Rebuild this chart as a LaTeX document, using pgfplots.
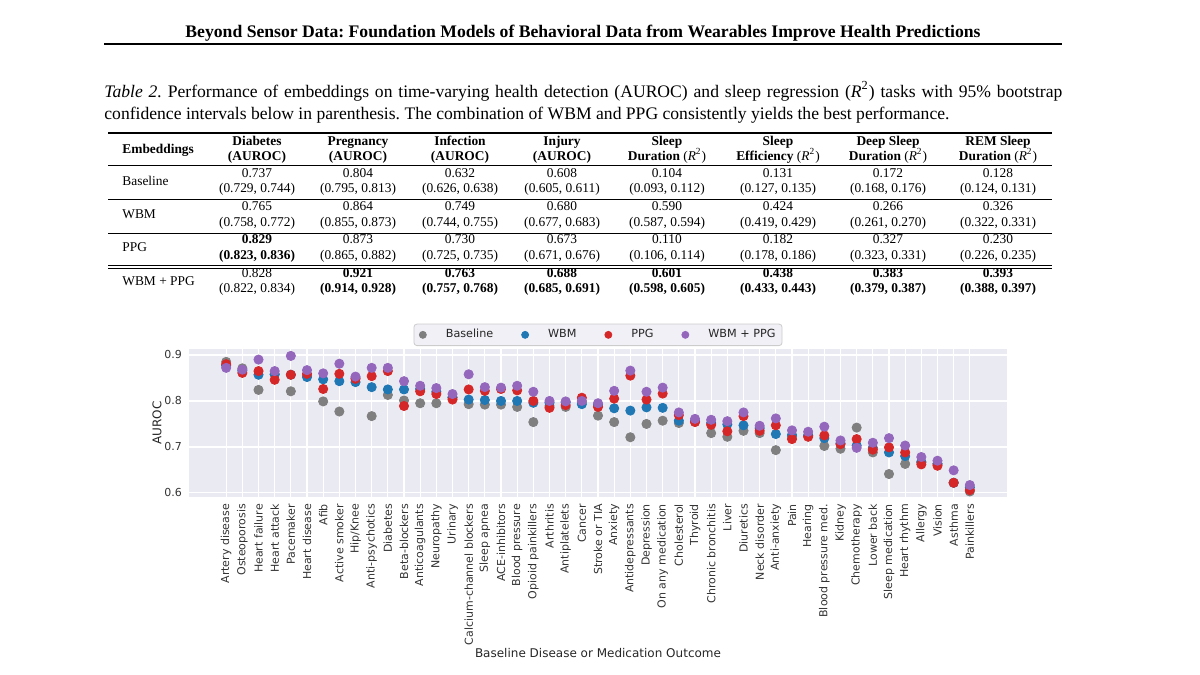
\documentclass[border=0pt]{standalone}
\usepackage{fontspec}
\setmainfont{Liberation Serif}
\newfontfamily\dejavu{DejaVu Sans}
\usepackage{pgfplots}
\usepackage{pgfplotstable}
\pgfplotsset{compat=1.18}
\definecolor{cB}{HTML}{7F7F7F}
\definecolor{cW}{HTML}{1F77B4}
\definecolor{cP}{HTML}{D62728}
\definecolor{cWP}{HTML}{9467BD}
\definecolor{sbbg}{HTML}{EAEAF2}
\frenchspacing

% AUROC per outcome: baseline, WBM, PPG, WBM+PPG
\pgfplotstableread{
x B W P WP
0 0.885 0.877 0.880 0.872
1 0.871 0.866 0.861 0.868
2 0.824 0.857 0.865 0.890
3 0.858 0.858 0.846 0.865
4 0.821 0.857 0.857 0.898
5 0.855 0.852 0.859 0.867
6 0.799 0.847 0.826 0.860
7 0.777 0.843 0.859 0.881
8 0.850 0.841 0.848 0.853
9 0.767 0.830 0.854 0.872
10 0.813 0.825 0.865 0.872
11 0.801 0.825 0.789 0.843
12 0.795 0.826 0.821 0.833
13 0.795 0.820 0.815 0.828
14 0.807 0.808 0.803 0.815
15 0.793 0.803 0.825 0.858
16 0.792 0.802 0.822 0.830
17 0.792 0.800 0.826 0.829
18 0.787 0.800 0.823 0.833
19 0.754 0.796 0.800 0.820
20 0.789 0.796 0.785 0.800
21 0.787 0.797 0.791 0.799
22 0.798 0.793 0.807 0.800
23 0.768 0.792 0.787 0.795
24 0.754 0.784 0.805 0.822
25 0.721 0.779 0.855 0.866
26 0.750 0.786 0.803 0.820
27 0.757 0.785 0.816 0.829
28 0.752 0.757 0.769 0.775
29 0.755 0.756 0.754 0.761
30 0.730 0.752 0.748 0.759
31 0.722 0.749 0.734 0.756
32 0.735 0.747 0.767 0.775
33 0.730 0.741 0.735 0.746
34 0.693 0.728 0.747 0.762
35 0.722 0.726 0.717 0.736
36 0.725 0.725 0.722 0.733
37 0.702 0.719 0.725 0.744
38 0.696 0.708 0.706 0.714
39 0.742 0.703 0.717 0.698
40 0.688 0.698 0.694 0.709
41 0.641 0.688 0.699 0.719
42 0.663 0.680 0.688 0.703
43 0.667 0.667 0.662 0.678
44 0.663 0.663 0.659 0.670
45 0.622 0.622 0.622 0.649
46 0.603 0.612 0.606 0.617
}\auroc

\begin{document}
\begin{tikzpicture}
\useasboundingbox (0,0) rectangle (600pt,-337.5pt);
\begin{scope}[x=0.5pt,y=-0.5pt,
  tab/.style={font=\fontsize{6.7}{8}\selectfont, inner sep=0pt, anchor=base}]
% running head
\node[anchor=base, inner sep=0pt] at (583,37.3)
  {\resizebox{397.5pt}{!}{\fontsize{9}{10}\selectfont\bfseries Beyond Sensor Data: Foundation Models of Behavioral Data from Wearables Improve Health Predictions}};
\draw[line width=1pt] (104,44) -- (1062,44);
% caption
\node[anchor=base west, inner sep=0pt, font=\fontsize{8.8}{10}\selectfont] at (104,97.3)
  {\makebox[479pt][s]{\textit{Table 2.} Performance of embeddings on time-varying health detection (AUROC) and sleep regression (\textit{R}\textsuperscript{2}) tasks with 95\% bootstrap}};
\node[anchor=base west, inner sep=0pt, font=\fontsize{8.8}{10}\selectfont] at (104,119.7)
  {confidence intervals below in parenthesis. The combination of WBM and PPG consistently yields the best performance.};
% table rules
\draw[line width=0.8pt] (108,133) -- (1052,133);
\draw[line width=0.5pt] (108,165) -- (1052,165);
\draw[line width=0.5pt] (108,199) -- (1052,199);
\draw[line width=0.5pt] (108,233) -- (1052,233);
\draw[line width=0.5pt] (108,265.5) -- (1052,265.5);
\draw[line width=0.5pt] (108,268.8) -- (1052,268.8);
% header
\node[tab, anchor=base west] at (122,153) {\textbf{Embeddings}};
\foreach \x/\a/\b in {257/Diabetes/(AUROC), 358/Pregnancy/(AUROC), 460/Infection/(AUROC), 562/Injury/(AUROC)}
  {\node[tab] at (\x,145) {\textbf{\a}}; \node[tab] at (\x,160.7) {\textbf{\b}};}
\foreach \x/\a/\b in {667/Sleep/Duration, 778/Sleep/Efficiency, 888/Deep Sleep/Duration, 998/REM Sleep/Duration}
  {\node[tab] at (\x,145) {\textbf{\a}}; \node[tab] at (\x,160.7) {\textbf{\b} (\textit{R}\textsuperscript{2})};}
% row labels
\node[tab, anchor=base west] at (122,185) {Baseline};
\node[tab, anchor=base west] at (122,218.3) {WBM};
\node[tab, anchor=base west] at (122,251.7) {PPG};
\node[tab, anchor=base west] at (122,285) {WBM + PPG};
% Baseline
\foreach \x/\a/\b in {257/0.737/{(0.729, 0.744)}, 358/0.804/{(0.795, 0.813)}, 460/0.632/{(0.626, 0.638)}, 562/0.608/{(0.605, 0.611)}, 667/0.104/{(0.093, 0.112)}, 778/0.131/{(0.127, 0.135)}, 888/0.172/{(0.168, 0.176)}, 998/0.128/{(0.124, 0.131)}}
  {\node[tab] at (\x,177.3) {\a}; \node[tab] at (\x,192.8) {\b};}
% WBM
\foreach \x/\a/\b in {257/0.765/{(0.758, 0.772)}, 358/0.864/{(0.855, 0.873)}, 460/0.749/{(0.744, 0.755)}, 562/0.680/{(0.677, 0.683)}, 667/0.590/{(0.587, 0.594)}, 778/0.424/{(0.419, 0.429)}, 888/0.266/{(0.261, 0.270)}, 998/0.326/{(0.322, 0.331)}}
  {\node[tab] at (\x,210.6) {\a}; \node[tab] at (\x,226.1) {\b};}
% PPG
\node[tab] at (257,243.9) {\textbf{0.829}}; \node[tab] at (257,259.4) {\textbf{(0.823, 0.836)}};
\foreach \x/\a/\b in {358/0.873/{(0.865, 0.882)}, 460/0.730/{(0.725, 0.735)}, 562/0.673/{(0.671, 0.676)}, 667/0.110/{(0.106, 0.114)}, 778/0.182/{(0.178, 0.186)}, 888/0.327/{(0.323, 0.331)}, 998/0.230/{(0.226, 0.235)}}
  {\node[tab] at (\x,243.9) {\a}; \node[tab] at (\x,259.4) {\b};}
% WBM + PPG
\node[tab] at (257,277.2) {0.828}; \node[tab] at (257,292.7) {(0.822, 0.834)};
\foreach \x/\a/\b in {358/0.921/{(0.914, 0.928)}, 460/0.763/{(0.757, 0.768)}, 562/0.688/{(0.685, 0.691)}, 667/0.601/{(0.598, 0.605)}, 778/0.438/{(0.433, 0.443)}, 888/0.383/{(0.379, 0.387)}, 998/0.393/{(0.388, 0.397)}}
  {\node[tab] at (\x,277.2) {\textbf{\a}}; \node[tab] at (\x,292.7) {\textbf{\b}};}
\end{scope}

\begin{axis}[
  at={(94.5pt,-248.5pt)}, anchor=south west,
  width=409pt, height=74pt, scale only axis,
  xmin=-2.3, xmax=48.3, ymin=0.591, ymax=0.913,
  axis background/.style={fill=sbbg},
  axis line style={draw=none},
  grid=major, major grid style={white, line width=0.6pt},
  major tick length=0pt,
  xtick={0,...,46},
  xticklabels={Artery disease, Osteoporosis, Heart failure, Heart attack, Pacemaker, Heart disease, Afib, Active smoker, Hip/Knee, Anti-psychotics, Diabetes, Beta-blockers, Anticoagulants, Neuropathy, Urinary, Calcium-channel blockers, Sleep apnea, ACE-inhibitors, Blood pressure, Opioid painkillers, Arthritis, Antiplatelets, Cancer, Stroke or TIA, Anxiety, Antidepressants, Depression, On any medication, Cholesterol, Thyroid, Chronic bronchitis, Liver, Diuretics, Neck disorder, Anti-anxiety, Pain, Hearing, Blood pressure med., Kidney, Chemotherapy, Lower back, Sleep medication, Heart rhythm, Allergy, Vision, Asthma, Painkillers},
  ytick={0.6,0.7,0.8,0.9},
  yticklabel style={/pgf/number format/fixed, /pgf/number format/precision=1},
  /pgf/number format/assume math mode=true,
  tick label style={font=\dejavu\fontsize{5.5}{6}\selectfont, text=black!80},
  xticklabel style={rotate=90, anchor=east},
  ylabel={AUROC}, xlabel={Baseline Disease or Medication Outcome},
  label style={font=\dejavu\fontsize{6}{7}\selectfont, text=black!85},
  xlabel style={at={(axis description cs:0.5,-1.054)}, anchor=center},
  ylabel style={at={(axis description cs:-0.039,0.5)}, anchor=center},
  legend columns=4,
  legend style={at={(axis description cs:0.5,1)}, anchor=south, yshift=1.5pt,
    draw=black!20, fill=sbbg!70, rounded corners=1.5pt,
    font=\dejavu\fontsize{5.6}{6.5}\selectfont, text=black!85,
    inner xsep=2.5pt, inner ysep=1.7pt, nodes={inner sep=0.8pt},
    /tikz/every even column/.append style={column sep=13.15pt}},
  dot/.style={only marks, mark=*, mark size=2.3pt,
    legend image code/.code={\draw[##1, mark size=1.75pt] plot coordinates {(0pt,0pt)}; \path (-1.75pt,0pt) (10.5pt,0pt);}},
]
\addplot[dot, color=cB] table[x=x, y=B] {\auroc};
\addlegendentry{Baseline}
\addplot[dot, color=cW] table[x=x, y=W] {\auroc};
\addlegendentry{WBM}
\addplot[dot, color=cP] table[x=x, y=P] {\auroc};
\addlegendentry{PPG}
\addplot[dot, color=cWP] table[x=x, y=WP] {\auroc};
\addlegendentry{WBM + PPG}
\end{axis}
\end{tikzpicture}
\end{document}
